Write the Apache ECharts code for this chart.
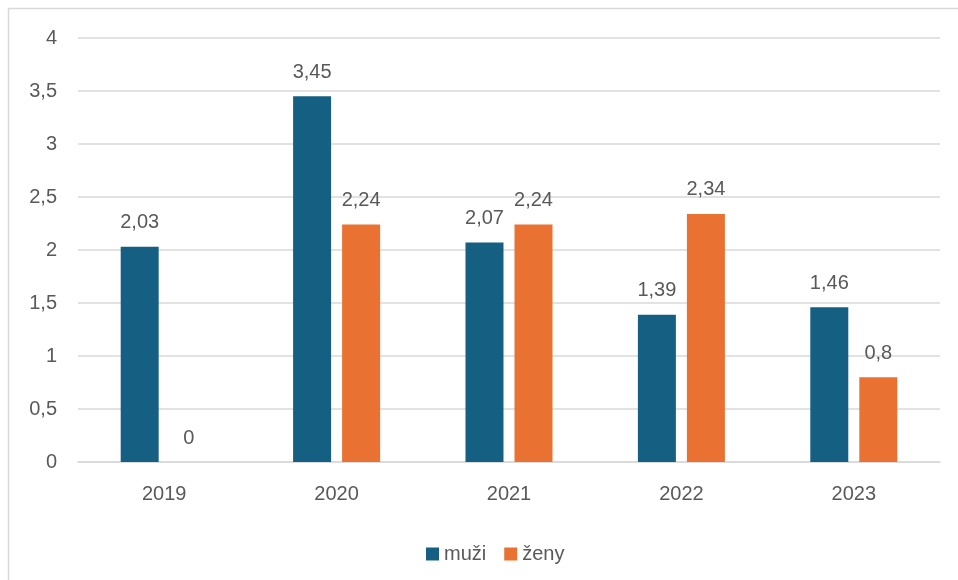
<!DOCTYPE html>
<html>
<head>
<meta charset="utf-8">
<script src="https://cdn.jsdelivr.net/npm/echarts@6/dist/echarts.min.js"></script>
<style>html,body{margin:0;padding:0;background:#fff}#c{width:958px;height:580px}</style>
</head>
<body>
<div id="c"></div>
<script>
const categories = ['2019', '2020', '2021', '2022', '2023'];
const muzi = [2.03, 3.45, 2.07, 1.39, 1.46];
const zeny = [0, 2.24, 2.24, 2.34, 0.8];
const yTicks = [0, 0.5, 1, 1.5, 2, 2.5, 3, 3.5, 4];

const fmt = v => String(v).replace('.', ',');
const FONT = 'Liberation Sans';
const TXT = '#595959';
const FS = 20;

const chart = echarts.init(document.getElementById('c'));
chart.setOption({
  animation: false,
  graphic: [{
    type: 'rect', silent: true,
    shape: { x: 8.5, y: 8.5, width: 1100, height: 1100 },
    style: { fill: 'none', stroke: '#d9d9d9', lineWidth: 1.5 }
  }],
  grid: { left: 78, right: 18, top: 38, bottom: 118 },
  legend: {
    data: ['muži', 'ženy'],
    left: 421, top: 539,
    itemWidth: 13, itemHeight: 13, itemGap: 18,
    textStyle: { fontFamily: FONT, fontSize: FS, color: TXT },
    icon: 'rect'
  },
  xAxis: {
    type: 'category', data: categories,
    axisLine: { lineStyle: { color: '#d9d9d9', width: 1.5 } },
    axisTick: { show: false },
    axisLabel: { fontFamily: FONT, fontSize: FS, color: TXT, margin: 22 }
  },
  yAxis: {
    type: 'value', min: yTicks[0], max: yTicks[yTicks.length - 1], interval: 0.5,
    axisLine: { show: false }, axisTick: { show: false },
    splitLine: { lineStyle: { color: '#d9d9d9', width: 1.5 } },
    axisLabel: { fontFamily: FONT, fontSize: FS, color: TXT, margin: 21, formatter: fmt }
  },
  series: [
    {
      name: 'muži', type: 'bar', data: muzi, barWidth: 38, barGap: '29%',
      itemStyle: { color: '#156082' },
      label: { show: true, position: 'top', distance: 14, fontFamily: FONT, fontSize: FS, color: TXT, formatter: p => fmt(p.value) }
    },
    {
      name: 'ženy', type: 'bar', data: zeny, barWidth: 38,
      itemStyle: { color: '#E97132' },
      label: { show: true, position: 'top', distance: 14, fontFamily: FONT, fontSize: FS, color: TXT, formatter: p => fmt(p.value) }
    }
  ]
});
</script>
</body>
</html>
